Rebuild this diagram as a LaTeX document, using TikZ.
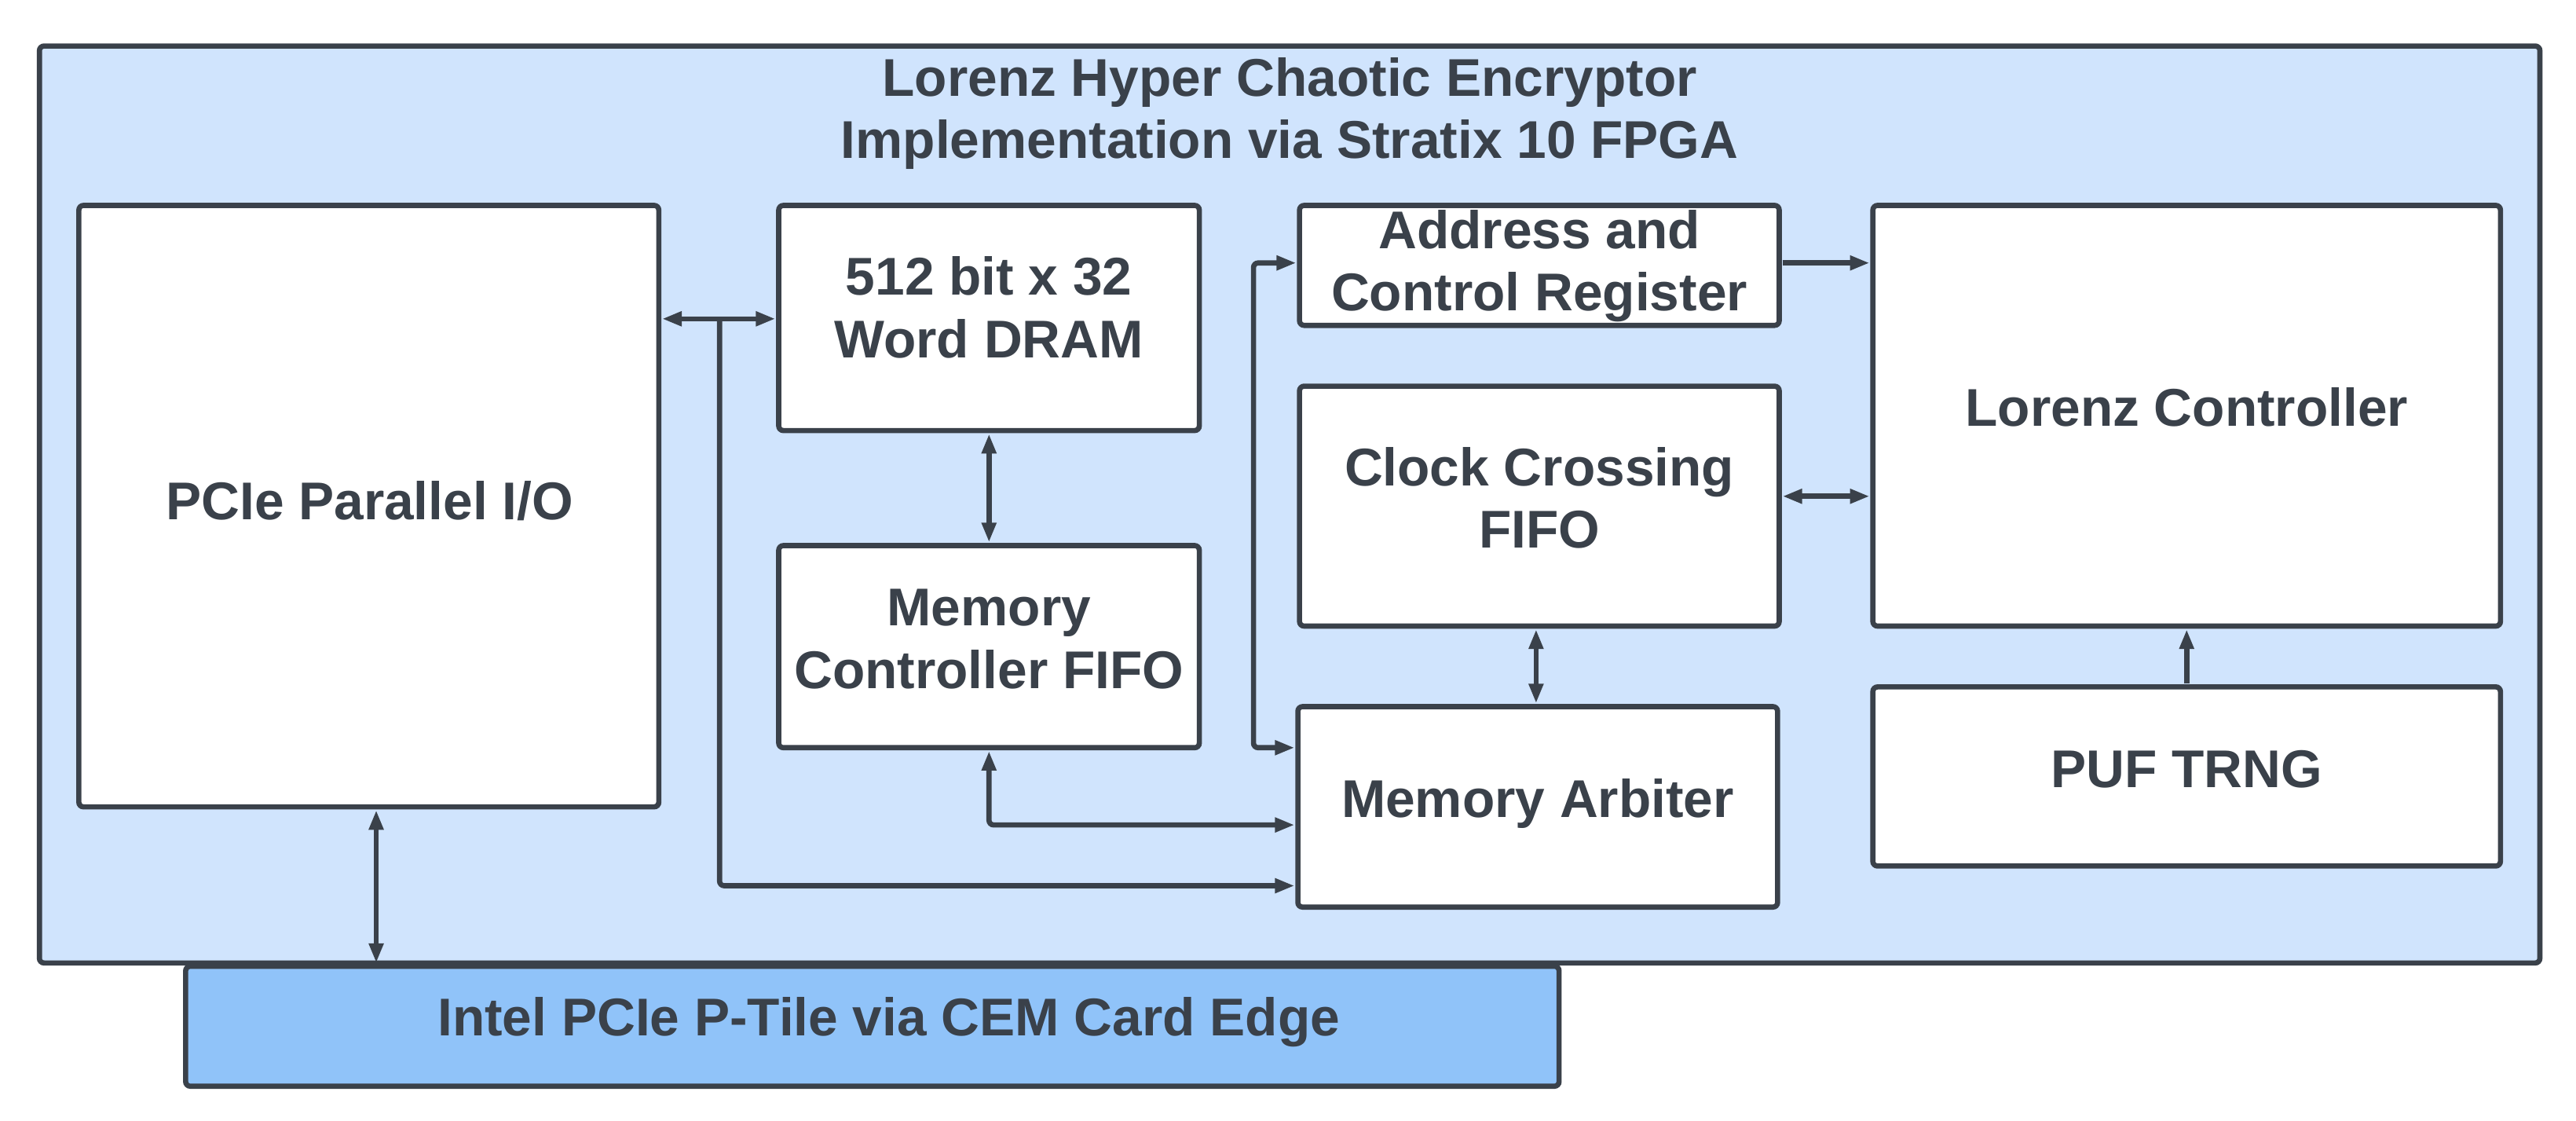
\documentclass[tikz,border=0pt]{standalone}
\usepackage{fontspec}
\setmainfont{Liberation Sans}
\usetikzlibrary{arrows.meta}
\definecolor{ln}{HTML}{3A414A}
\definecolor{bgb}{HTML}{D0E4FD}
\definecolor{barb}{HTML}{90C3F9}
\begin{document}
\begin{tikzpicture}[x=0.05cm,y=-0.05cm,
  box/.style={draw=ln,line width=4.5pt,rounded corners=4pt,fill=white},
  lbl/.style={font=\fontsize{46}{54}\selectfont\bfseries,text=ln,align=center},
  ar/.style={draw=ln,line width=4.5pt,-{Triangle[length=17pt,width=12pt]}},
  dar/.style={draw=ln,line width=4.5pt,{Triangle[length=17pt,width=12pt]}-{Triangle[length=17pt,width=12pt]}}]
\useasboundingbox (0,0) rectangle (1568,682);
\fill[white] (0,0) rectangle (1568,682);
\draw[box,fill=bgb] (24,28) rectangle (1546,586);
\node[lbl] (title) at (785,69) {Lorenz Hyper Chaotic Encryptor\\Implementation via Stratix 10 FPGA};
\draw[box,fill=barb] (113,588) rectangle (949,661);
\node[lbl] (intel) at (541,622) {Intel PCIe P-Tile via CEM Card Edge};
\draw[box] (48,125) rectangle (401,491); \node[lbl] (pcie) at (225,305) {PCIe Parallel I/O};
\draw[box] (474,125) rectangle (730,262); \node[lbl] (dram) at (602,187) {512 bit x 32\\Word DRAM};
\draw[box] (474,332) rectangle (730,455); \node[lbl] (mcf) at (602,389) {Memory\\Controller FIFO};
\draw[box] (791,125) rectangle (1083,198); \node[lbl] (addr) at (937,162) {Address and\\Control Register};
\draw[box] (791,235) rectangle (1083,381); \node[lbl] (ccf) at (937,303) {Clock Crossing\\FIFO};
\draw[box] (790,430) rectangle (1082,552); \node[lbl] (arb) at (936,489) {Memory Arbiter};
\draw[box] (1140,125) rectangle (1522,381); \node[lbl] (lor) at (1331,248) {Lorenz Controller};
\draw[box] (1140,418) rectangle (1522,527); \node[lbl] (puf) at (1331,468) {PUF TRNG};
\coordinate (b1) at (438,194);
\draw[dar] (403,194) -- (472,194);
\draw[ar,rounded corners=4pt] (b1) -- (438,539) -- (788,539);
\draw[dar] (602,264) -- (602,330);
\draw[dar,rounded corners=4pt] (602,457) -- (602,502) -- (788,502);
\draw[dar,rounded corners=4pt] (789,160) -- (763,160) -- (763,455) -- (788,455);
\draw[ar] (1085,160) -- (1138,160);
\draw[dar] (1085,302) -- (1138,302);
\draw[dar] (935,383) -- (935,428);
\draw[ar] (1331,416) -- (1331,383);
\draw[dar] (229,493) -- (229,586);
\end{tikzpicture}
\end{document}
